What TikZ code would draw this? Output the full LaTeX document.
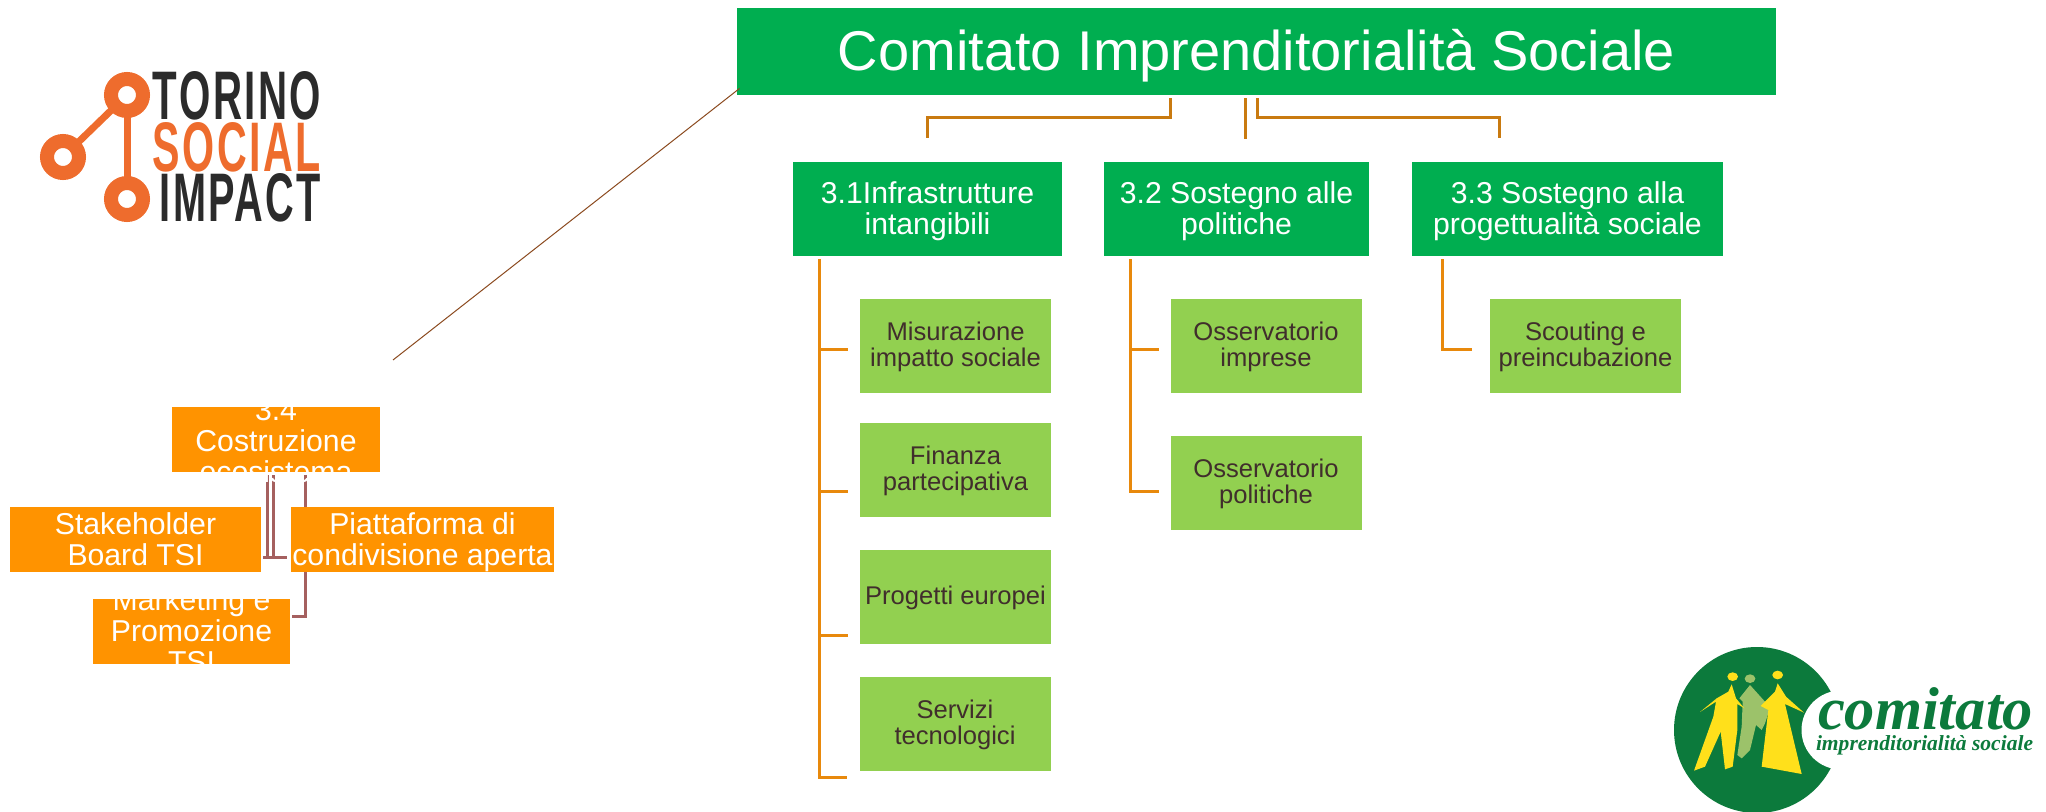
\documentclass[tikz,border=0pt]{standalone}
\usepackage{graphicx}
\usepackage{fontspec}
\setmainfont{Liberation Sans}
\newfontfamily\logofont[LetterSpace=6]{Liberation Sans}
\newfontfamily\seriffont{Liberation Serif}
\definecolor{titlegreen}{RGB}{0,174,80}
\definecolor{leafgreen}{RGB}{146,208,80}
\definecolor{boxorange}{RGB}{255,147,0}
\definecolor{leaftext}{RGB}{64,46,44}
\definecolor{toporange}{RGB}{201,122,16}
\definecolor{trunkorange}{RGB}{232,137,12}
\definecolor{redbrown}{RGB}{165,96,95}
\definecolor{diagbrown}{RGB}{139,74,31}
\definecolor{tsiorange}{RGB}{238,108,45}
\definecolor{tsidark}{RGB}{43,43,43}
\definecolor{logogreen}{RGB}{12,122,60}
\definecolor{logoyellow}{RGB}{255,224,27}
\definecolor{logolight}{RGB}{156,194,106}
\tikzset{
  titlebox/.style={fill=titlegreen, text=white, align=center, inner sep=0pt,
    minimum width=519.5pt, minimum height=43.5pt, text height=22.6pt, text depth=3.5pt,
    font=\fontsize{28}{32}\selectfont},
  boxfont/.style={align=center, inner sep=0pt, font=\fontsize{15.1}{15.5}\selectfont},
  leaffont/.style={align=center, inner sep=0pt, text=leaftext, font=\fontsize{12.8}{13}\selectfont},
  areatext/.style={label={[boxfont,text=white,yshift=-1.3pt]center:#1}},
  leaftxt/.style={label={[leaffont,yshift=-0.6pt]center:#1}},
  tsitxt/.style 2 args={label={[boxfont,text=white,yshift=#1]center:#2}},
  areabox/.style={fill=titlegreen, inner sep=0pt, minimum height=47pt},
  leafbox/.style={fill=leafgreen, inner sep=0pt, minimum width=95.5pt, minimum height=47pt},
  tsibox/.style={fill=boxorange, inner sep=0pt, minimum height=32.5pt},
  toplink/.style={draw=toporange, line width=1.5pt},
  trunk/.style={draw=trunkorange, line width=1.5pt},
  tsilink/.style={draw=redbrown, line width=1.5pt},
}
\begin{document}
\begin{tikzpicture}[x=0.5pt,y=-0.5pt]
\useasboundingbox (0,0) rectangle (2046,812);
% linee libere
\coordinate (dropa) at (927,138);
\coordinate (dropb) at (1245,139);
\coordinate (dropc) at (1499,138);
\coordinate (tka) at (819,777);
\coordinate (tkb) at (1130,492);
\coordinate (tkc) at (1442,350);
\coordinate (tsia) at (267,557);
\coordinate (tsib) at (273,557);
\coordinate (tsic) at (305,616);
\coordinate (diagend) at (393,360);
% riquadri verdi
\node [titlebox] (title) at (1256.5,51.5) {Comitato Imprenditorialità Sociale};
\node [areabox,minimum width=134.5pt,areatext={3.1Infrastrutture\\intangibili}] (infra) at (927.5,209) {};
\node [areabox,minimum width=132.5pt,areatext={3.2 Sostegno alle\\politiche}] (politiche) at (1236.5,209) {};
\node [areabox,minimum width=155.5pt,areatext={3.3 Sostegno alla\\progettualità sociale}] (progetti) at (1567.5,209) {};
\node [leafbox,leaftxt={Misurazione\\impatto sociale}] (misura) at (955.5,346) {};
\node [leafbox,leaftxt={Finanza\\partecipativa}] (finanza) at (955.5,470) {};
\node [leafbox,leaftxt={Progetti europei}] (europei) at (955.5,597) {};
\node [leafbox,leaftxt={Servizi\\tecnologici}] (servizi) at (955,724) {};
\node [leafbox,leaftxt={Osservatorio\\imprese}] (impres) at (1266,346) {};
\node [leafbox,leaftxt={Osservatorio\\politiche}] (polit) at (1266,483) {};
\node [leafbox,leaftxt={Scouting e\\preincubazione}] (scout) at (1585.5,346) {};
% collegamenti dal titolo
\draw [toplink,shorten <=1.5pt] (title.south -| 1170,0) |- ([yshift=-11pt]title.south -| dropa) -- (dropa);
\draw [toplink,shorten <=1.5pt] (title.south -| dropb) -- (dropb);
\draw [toplink,shorten <=1.5pt] (title.south -| 1257,0) |- ([yshift=-11pt]title.south -| dropc) -- (dropc);
% tronchi
\draw [trunk,shorten <=1.5pt] (infra.south -| tka) -- (tka) -- ([xshift=-6pt,yshift=-26.5pt]servizi.west);
\draw [trunk,shorten <=1.5pt] (politiche.south -| tkb) -- (tkb) -- ([xshift=-5.5pt,yshift=-4.5pt]polit.west);
\draw [trunk,shorten <=1.5pt] (progetti.south -| tkc) -- (tkc) -- ([xshift=-9pt,yshift=-2pt]scout.west);
\foreach \leaf/\off in {misura/4,finanza/22,europei/38}
\draw [trunk] ([shift={(0,\off)}]tka |- \leaf.west) -- ([shift={(-12,\off)}]\leaf.west);
\draw [trunk] ([shift={(0,4)}]tkb |- impres.west) -- ([shift={(-11,4)}]impres.west);
% collegamento verso il gruppo arancione
\draw [draw=diagbrown,line width=.5pt] (title.south west) ++(3,-7) -- (diagend);
% gruppo arancione
\draw [tsilink] (tsia) -- ++(0,-82);
\draw [tsilink] (tsib) -- ++(0,-82);
\draw [tsilink] (263,557) -- (287,557);
\draw [tsilink] (305,475) -- (tsic) -- (292,616);
\node [tsibox,minimum width=104pt,tsitxt={-0.7pt}{3.4\\Costruzione\\ecosistema}] (costr) at (276,439.5) {};
\node [tsibox,minimum width=125.5pt,tsitxt={0pt}{Stakeholder\\Board TSI}] (stake) at (135.5,539.5) {};
\node [tsibox,minimum width=131.5pt,tsitxt={-1.3pt}{Piattaforma di\\condivisione aperta}] (piatta) at (422.5,539.5) {};
\node [tsibox,minimum width=98.5pt,tsitxt={0.6pt}{Marketing e\\Promozione\\TSI}] (market) at (191.5,631.5) {};
% logo Torino Social Impact
\draw [tsiorange,line width=3.5pt] (127,95) -- (63,157);
\draw [tsiorange,line width=3.5pt] (127,95) -- (127,199);
\foreach \name/\cx/\cy in {ringa/127/95,ringb/63/157,ringc/127/199}
\node [circle,draw=tsiorange,line width=7pt,minimum size=16pt,inner sep=0pt,fill=white] (\name) at (\cx,\cy) {};
\node [inner sep=0pt,text=tsidark] (torino) at (237,96) {\resizebox{84pt}{24pt}{\logofont\bfseries TORINO}};
\node [inner sep=0pt,text=tsiorange] (social) at (237,147.5) {\resizebox{84pt}{24.5pt}{\logofont\bfseries SOCIAL}};
\node [inner sep=0pt,text=tsidark] (impact) at (240.5,198) {\resizebox{80.5pt}{24pt}{\logofont\bfseries IMPACT}};
% logo Comitato
\fill [logogreen] (1757,730) circle (83);
\fill [white] (1841,730) circle (39.5);
\begin{scope}[shift={(1650,630)},scale=1/3]
\fill [logolight] (300,146) ellipse (16 and 13);
\fill [logolight] (300,165) -- (345,215) -- (358,240) -- (345,280) -- (335,300) -- (318,285) -- (300,360) -- (275,385) -- (262,375) -- (275,290) -- (278,215) -- (268,205) -- cycle;
\fill [logoyellow] (248,140) ellipse (16 and 13);
\fill [logoyellow] (383,135) ellipse (16 and 13);
\fill [logoyellow] (245,163) -- (258,205) -- (283,235) -- (262,222) -- (262,300) -- (248,410) -- (225,418) -- (212,305) -- (165,410) -- (132,422) -- (190,260) -- (198,215) -- (150,246) -- (200,205) -- (235,185) -- cycle;
\fill [logoyellow] (383,160) -- (408,200) -- (462,248) -- (405,222) -- (455,432) -- (335,410) -- (355,240) -- (332,228) -- (375,185) -- cycle;
\end{scope}
\node [inner sep=0pt,anchor=base,text=logogreen] (comitato) at (1925.5,729) {\resizebox{107.5pt}{!}{\seriffont\bfseries\itshape comitato}};
\node [inner sep=0pt,anchor=base,text=logogreen] (impsoc) at (1924.5,750) {\resizebox{108.5pt}{!}{\seriffont\bfseries\itshape imprenditorialità sociale}};
\end{tikzpicture}
\end{document}
